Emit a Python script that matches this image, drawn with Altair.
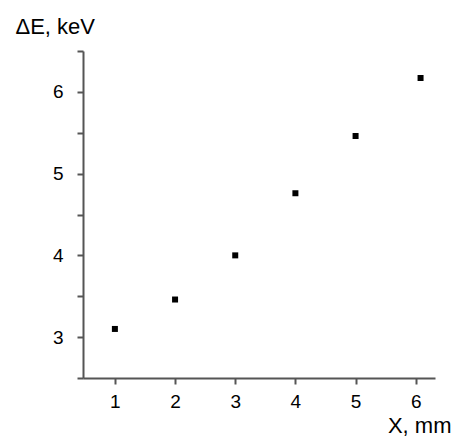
import altair as alt
import pandas as pd

x_mm = [1.0, 2.0, 3.0, 4.0, 5.0, 6.08]
de_kev = [3.10, 3.46, 4.00, 4.76, 5.46, 6.17]

x_ticks = [1, 2, 3, 4, 5, 6]
y_ticks = [2.5, 3, 3.5, 4, 4.5, 5, 5.5, 6, 6.5]

df = pd.DataFrame({"x": x_mm, "y": de_kev})

font = "Liberation Sans"
axis_color = "#555555"

chart = alt.Chart(df).mark_point(
    shape="square", filled=True, color="black", size=36, opacity=1
).encode(
    x=alt.X("x:Q",
            scale=alt.Scale(domain=[0.47, 6.32], nice=False, zero=False),
            axis=alt.Axis(values=x_ticks, title="X, mm", grid=False, format="d",
                          ticks=True, domain=True,
                          domainColor=axis_color, domainWidth=2,
                          tickColor=axis_color, tickWidth=2, tickSize=6,
                          labelFont=font, labelFontSize=19, labelColor="black",
                          labelPadding=8, labelFlush=False,
                          titleFont=font, titleFontSize=22, titleFontWeight="normal",
                          titleColor="black", titleAlign="right", titleBaseline="alphabetic",
                          titleX=368, titleY=54, titleAngle=0)),
    y=alt.Y("y:Q",
            scale=alt.Scale(domain=[2.5, 6.5], nice=False, zero=False),
            axis=alt.Axis(values=y_ticks, title="ΔE, keV", grid=False,
                          labelExpr="datum.value % 1 === 0 ? format(datum.value, 'd') : ''",
                          ticks=True, domain=True,
                          domainColor=axis_color, domainWidth=2,
                          tickColor=axis_color, tickWidth=2, tickSize=6,
                          labelFont=font, labelFontSize=19, labelColor="black",
                          labelPadding=14, labelFlush=False,
                          titleFont=font, titleFontSize=22, titleFontWeight="normal",
                          titleColor="black", titleAlign="left", titleBaseline="alphabetic",
                          titleX=-68, titleY=-18, titleAngle=0)),
).properties(
    width=352, height=327,
    autosize=alt.AutoSizeParams(type="none"),
    padding={"left": 75, "top": 43, "right": 16, "bottom": 58},
).configure_view(stroke=None)

chart.save("out.html", embed_options={"renderer": "svg", "actions": False})
